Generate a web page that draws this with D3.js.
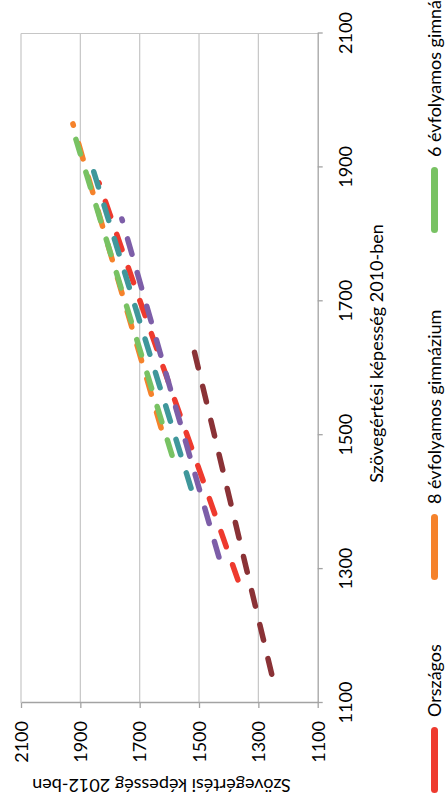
<!DOCTYPE html>
<html>
<head>
<meta charset="utf-8">
<script src="https://cdn.jsdelivr.net/npm/d3@7"></script>
<style>
  html, body { margin: 0; padding: 0; background: #ffffff; }
  svg { display: block; }
  text { font-family: Lato, "Noto Sans", sans-serif; fill: #000; }
</style>
</head>
<body>
<svg id="chart" width="448" height="798"></svg>
<script>
// ---- data (x = Szövegértési képesség 2010-ben, y = 2012-ben) ----
const seriesNames = ["Országos", "8 évfolyamos gimnázium", "6 évfolyamos gimnázium",
                     "4 évfolyamos gimnázium", "Szakközépiskola", "Szakiskola"];
const seriesColors = ["#EE3A2E", "#F5822B", "#78C263", "#3F979B", "#7D5EA8", "#8A3236"];
const orszagos      = [[1284, 1369], [1765, 1750], [1877, 1837]];
const gimn8         = [[1511, 1628], [1740, 1778], [1965, 1925]];
const gimn6         = [[1470, 1591], [1710, 1756], [1942, 1915]];
const gimn4         = [[1421, 1527], [1670, 1700], [1917, 1871]];
const szakkozep     = [[1318, 1433], [1570, 1597], [1823, 1760]];
const szakiskola    = [[1143, 1255], [1400, 1394], [1642, 1525]];
const seriesValues = [orszagos, gimn8, gimn6, gimn4, szakkozep, szakiskola];
const xTicks = [1100, 1300, 1500, 1700, 1900, 2100];
const yTicks = [1100, 1300, 1500, 1700, 1900, 2100];
const xTitle = "Szövegértési képesség 2010-ben";
const yTitle = "Szövegértési képesség 2012-ben";

// ---- layout (chart is drawn in its own frame, then turned a quarter left) ----
const W = 798, H = 448;
const plot = { left: 95, right: 764.5, top: 21, bottom: 317.7 };
const legendStarts = [5, 218, 565];

const svg = d3.select("#chart");
const g = svg.append("g").attr("transform", `translate(0,${W}) rotate(-90)`);

const x = d3.scaleLinear().domain([1100, 2100]).range([plot.left, plot.right]);
const y = d3.scaleLinear().domain([1100, 2100]).range([plot.bottom, plot.top]);

const gridColor = "#C6C6C6", axisColor = "#A3A3A3";

// horizontal grid lines
g.append("g").selectAll("line").data(yTicks.filter(t => t > 1100)).join("line")
  .attr("x1", plot.left).attr("x2", x(2100))
  .attr("y1", d => y(d)).attr("y2", d => y(d))
  .attr("stroke", gridColor).attr("stroke-width", 1.2);
// right edge line
g.append("line").attr("x1", x(2100)).attr("x2", x(2100))
  .attr("y1", plot.top).attr("y2", plot.bottom)
  .attr("stroke", gridColor).attr("stroke-width", 1.2);

// x axis
const xAxis = g.append("g").attr("transform", `translate(0,${plot.bottom})`)
  .call(d3.axisBottom(x).tickValues(xTicks).tickFormat(d3.format("d")).tickSize(5).tickSizeOuter(0));
xAxis.select(".domain").attr("stroke", axisColor).attr("stroke-width", 1.3);
xAxis.selectAll(".tick line").attr("stroke", axisColor).attr("stroke-width", 1.3);
xAxis.selectAll(".tick text").attr("y", 34.5).attr("dy", 0)
  .style("font-size", "18px").style("font-family", "Lato");

// y axis
const yAxis = g.append("g").attr("transform", `translate(${plot.left},0)`)
  .call(d3.axisLeft(y).tickValues(yTicks).tickFormat(d3.format("d")).tickSize(5).tickSizeOuter(0));
yAxis.select(".domain").attr("stroke", axisColor).attr("stroke-width", 1.3);
yAxis.selectAll(".tick line").attr("stroke", axisColor).attr("stroke-width", 1.3);
yAxis.selectAll(".tick text").attr("x", -18).attr("dy", "0.35em")
  .style("font-size", "18px").style("font-family", "Lato");

// series
const line = d3.line().x(d => x(d[0])).y(d => y(d[1]));
g.append("g").selectAll("path").data(seriesValues).join("path")
  .attr("d", d => line(d))
  .attr("fill", "none")
  .attr("stroke", (d, i) => seriesColors[i])
  .attr("stroke-width", 5.5)
  .attr("stroke-linecap", "round")
  .attr("stroke-dasharray", "16,19");

// axis titles
g.append("text").attr("x", 444.5).attr("y", 383).attr("text-anchor", "middle")
  .style("font-size", "18px").text(xTitle);
g.append("text").attr("transform", `translate(19,161.5) rotate(-90)`)
  .attr("text-anchor", "middle").style("font-size", "18px").text(yTitle);

// legend
const legend = g.append("g");
legendStarts.forEach((sx, i) => {
  const eg = legend.append("g").attr("transform", `translate(${sx},434.5)`);
  eg.append("line").attr("x1", 3.5).attr("x2", 62.5).attr("y1", 0).attr("y2", 0)
    .attr("stroke", seriesColors[i]).attr("stroke-width", 7).attr("stroke-linecap", "round");
  eg.append("text").attr("x", 76).attr("y", 6.5).style("font-size", "18px").text(seriesNames[i]);
});
</script>
</body>
</html>
